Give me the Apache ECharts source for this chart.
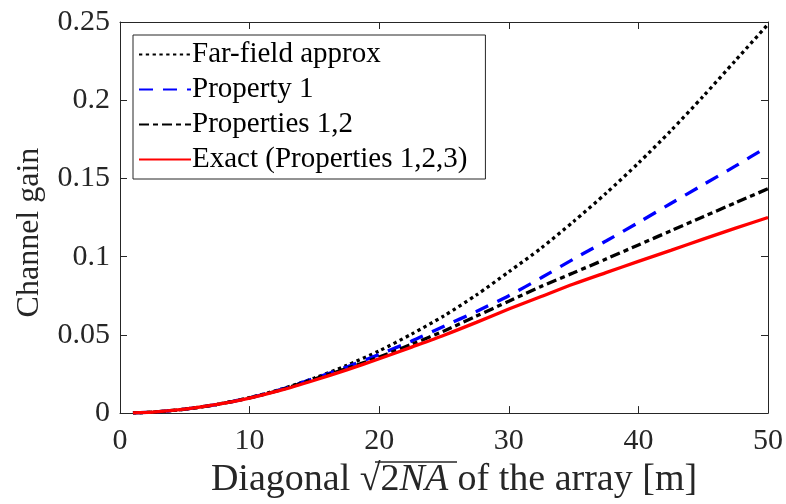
<!DOCTYPE html>
<html>
<head>
<meta charset="utf-8">
<script src="https://cdn.jsdelivr.net/npm/echarts@6/dist/echarts.min.js"></script>
<style>
  html, body { margin: 0; padding: 0; background: #fff; }
  #chart { width: 786px; height: 504px; }
</style>
</head>
<body>
<div id="chart"></div>
<script>
// Array diagonal in metres
const diagonal = [1, 2.5, 5, 7.5, 10, 12.5, 15, 17.5, 20, 22.5, 25, 27.5, 30, 32.5, 35, 37.5, 40, 42.5, 45, 47.5, 50];

// Channel gain for each model
const farField     = [0.0001, 0.0006, 0.0025, 0.0056, 0.0099, 0.0155, 0.0224, 0.0305, 0.0398, 0.0505, 0.0622, 0.0755, 0.0903, 0.1055, 0.1225, 0.1405, 0.1598, 0.1805, 0.2025, 0.2255, 0.2485];
const property1    = [0.0001, 0.0006, 0.0025, 0.0055, 0.0098, 0.0153, 0.0222, 0.0295, 0.0375, 0.0460, 0.0555, 0.0650, 0.0750, 0.0865, 0.0985, 0.1100, 0.1218, 0.1340, 0.1460, 0.1580, 0.1705];
const properties12 = [0.0001, 0.0006, 0.0025, 0.0055, 0.0097, 0.0151, 0.0218, 0.0285, 0.0358, 0.0440, 0.0525, 0.0620, 0.0715, 0.0810, 0.0897, 0.0985, 0.1075, 0.1165, 0.1255, 0.1345, 0.1434];
const exact        = [0.0001, 0.0006, 0.0025, 0.0055, 0.0096, 0.0148, 0.0210, 0.0276, 0.0347, 0.0422, 0.0498, 0.0580, 0.0665, 0.0745, 0.0825, 0.0898, 0.0970, 0.1040, 0.1112, 0.1182, 0.1250];

const seriesNames = ['Far-field approx', 'Property 1', 'Properties 1,2', 'Exact (Properties 1,2,3)'];

const xTicks = { min: 0, max: 50, interval: 10 };
const yTicks = { min: 0, max: 0.25, interval: 0.05 };

const FONT = '"Liberation Serif", "Times New Roman", serif';
const AXIS_COLOR = '#262626';

function pairs(ys) { return diagonal.map((x, i) => [x, ys[i]]); }

const chart = echarts.init(document.getElementById('chart'), null, { renderer: 'canvas' });

const baseAxis = {
  axisLine: { show: true, onZero: false, lineStyle: { color: AXIS_COLOR, width: 1 } },
  axisTick: { show: true, inside: true, length: 7, lineStyle: { color: AXIS_COLOR, width: 1 } },
  splitLine: { show: false }
};

const lineSeries = (name, ys, color, type, width) => ({
  name: name,
  type: 'line',
  data: pairs(ys),
  xAxisIndex: 0,
  yAxisIndex: 0,
  symbol: 'none',
  smooth: 0.25,
  lineStyle: { color: color, width: width, type: type, cap: 'butt' },
  itemStyle: { color: color },
  z: 3
});

chart.setOption({
  animation: false,
  backgroundColor: '#fff',
  grid: { left: 120, top: 22, width: 649, height: 394, containLabel: false },
  xAxis: [
    Object.assign({}, baseAxis, {
      type: 'value', position: 'bottom',
      min: xTicks.min, max: xTicks.max, interval: xTicks.interval,
      axisLabel: { show: true, color: AXIS_COLOR, fontFamily: FONT, fontSize: 30, margin: 13 },
      name: '{t|Diagonal }{t|√}{t|2}{i|NA}{t| of the array [m]}',
      nameLocation: 'middle', nameGap: 45,
      nameTextStyle: {
        padding: [0, 0, 0, 20],
        rich: {
          t: { fontFamily: FONT, fontSize: 38, color: AXIS_COLOR },
          i: { fontFamily: FONT, fontSize: 38, fontStyle: 'italic', color: AXIS_COLOR }
        }
      }
    }),
    Object.assign({}, baseAxis, {
      type: 'value', position: 'top',
      min: xTicks.min, max: xTicks.max, interval: xTicks.interval,
      axisLabel: { show: false }
    })
  ],
  yAxis: [
    Object.assign({}, baseAxis, {
      type: 'value', position: 'left',
      min: yTicks.min, max: yTicks.max, interval: yTicks.interval,
      axisLabel: { show: true, color: AXIS_COLOR, fontFamily: FONT, fontSize: 30, margin: 10 },
      name: 'Channel gain',
      nameLocation: 'middle', nameGap: 74,
      nameTextStyle: { fontFamily: FONT, fontSize: 32, color: AXIS_COLOR, padding: [0, 30, 0, 0] }
    }),
    Object.assign({}, baseAxis, {
      type: 'value', position: 'right',
      min: yTicks.min, max: yTicks.max, interval: yTicks.interval,
      axisLabel: { show: false }
    })
  ],
  legend: {
    orient: 'vertical',
    left: 133, top: 35,
    data: seriesNames,
    backgroundColor: '#fff',
    borderColor: AXIS_COLOR,
    borderWidth: 1,
    borderRadius: 0,
    padding: [5, 18, 5, 5],
    itemWidth: 52,
    itemHeight: 14,
    itemGap: 6,
    itemStyle: { opacity: 0 },
    textStyle: { fontFamily: FONT, fontSize: 29, color: '#000', padding: [0, 0, 0, -4] },
    selectedMode: false
  },
  graphic: [
    {
      // vinculum of the square root in the x-axis title
      type: 'line',
      shape: { x1: 375, y1: 462, x2: 457, y2: 462 },
      style: { stroke: AXIS_COLOR, lineWidth: 1.5 },
      silent: true
    }
  ],
  series: [
    lineSeries(seriesNames[0], farField, '#000000', [3.3, 3.5], 3.3),
    lineSeries(seriesNames[1], property1, '#0000ff', [14, 10], 3.3),
    lineSeries(seriesNames[2], properties12, '#000000', [10, 4, 5, 4], 3.3),
    lineSeries(seriesNames[3], exact, '#ff0000', 'solid', 3.3)
  ]
});
</script>
</body>
</html>
